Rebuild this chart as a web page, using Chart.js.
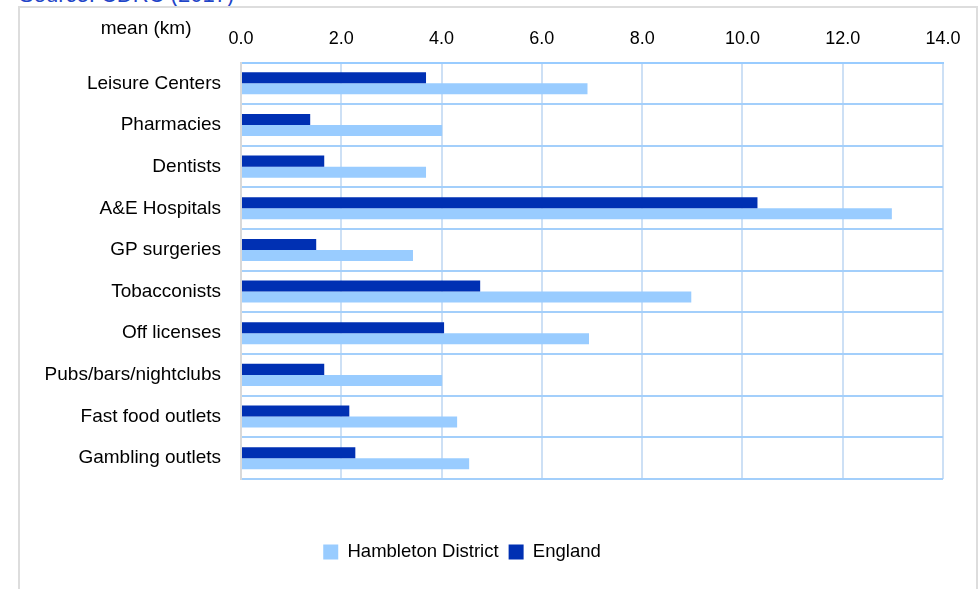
<!DOCTYPE html>
<html>
<head>
<meta charset="utf-8">
<script src="https://cdn.jsdelivr.net/npm/chart.js@4.4.0/dist/chart.umd.min.js"></script>
<style>
  html, body { margin: 0; padding: 0; background: #fff; overflow: hidden; }
  #wrap { position: relative; width: 980px; height: 589px; }
  #source { position: absolute; left: 19px; top: -16.5px; font: 22px "Liberation Sans", Arial, sans-serif;
            line-height: 22px; color: #1f45c8; white-space: nowrap; }
  #frame { position: absolute; left: 18px; top: 6px; width: 960px; height: 620px;
           border: 2px solid #dddddd; box-sizing: border-box; }
  #chart { position: absolute; left: -19px; top: 0; }
</style>
</head>
<body>
<div id="wrap">
  <div id="source">Source: CDRC (2017)</div>
  <div id="frame"></div>
  <canvas id="chart" width="999" height="589"></canvas>
</div>
<script>
// mean distance (km) to nearest facility
const categories = ['Leisure Centers', 'Pharmacies', 'Dentists', 'A&E Hospitals', 'GP surgeries',
                    'Tobacconists', 'Off licenses', 'Pubs/bars/nightclubs', 'Fast food outlets', 'Gambling outlets'];
const hambleton = [6.91, 4.01, 3.69, 12.98, 3.43, 8.98, 6.94, 4.01, 4.31, 4.55];
const england = [3.69, 1.38, 1.66, 10.30, 1.50, 4.77, 4.05, 1.66, 2.16, 2.28];
const xTicks = [0, 2, 4, 6, 8, 10, 12, 14];
const unitLabel = 'mean (km)';

Chart.defaults.font.family = '"Liberation Sans", Arial, sans-serif';
Chart.defaults.color = '#000';

// "mean (km)" sits above the category labels, left of the axis ticks
const unitLabelPlugin = {
    id: 'unitLabel',
    afterDraw(chart) {
        const ctx = chart.ctx;
        const area = chart.chartArea;
        ctx.save();
        ctx.font = '19px "Liberation Sans", Arial, sans-serif';
        ctx.fillStyle = '#000';
        ctx.textAlign = 'left';
        ctx.textBaseline = 'middle';
        ctx.fillText(unitLabel, area.left - 140.3, area.top - 34);
        ctx.restore();
    }
};

new Chart(document.getElementById('chart'), {
    type: 'bar',
    data: {
        labels: categories,
        datasets: [{
            label: 'England',
            data: england,
            backgroundColor: '#0030b3',
            borderWidth: 0,
            categoryPercentage: 0.53,
            barPercentage: 1
        },
        {
            label: 'Hambleton District',
            data: hambleton,
            backgroundColor: '#99ccff',
            borderWidth: 0,
            categoryPercentage: 0.53,
            barPercentage: 1
        }]
    },
    options: {
        indexAxis: 'y',
        responsive: false,
        animation: false,
        layout: { padding: { left: 0, right: 37, top: 0, bottom: 17.75 } },
        scales: {
            x: {
                position: 'top',
                min: 0,
                max: 14,
                afterBuildTicks: (scale) => { scale.ticks = xTicks.map(v => ({ value: v })); },
                afterFit: (scale) => { scale.height = 62.5; },
                ticks: {
                    font: { size: 18 },
                    padding: 13,
                    maxRotation: 0,
                    callback: (v) => Number(v).toFixed(1)
                },
                grid: { color: '#cde0f5', lineWidth: 2, drawTicks: false },
                border: { color: '#99ccff', width: 2 }
            },
            y: {
                afterFit: (scale) => { scale.width = 260; },
                ticks: { font: { size: 19 }, padding: 20 },
                grid: { color: '#a3cffb', lineWidth: 2, drawTicks: false, offset: true },
                border: { color: '#d9d9d9', width: 2, z: 1 }
            }
        },
        plugins: {
            tooltip: { enabled: false },
            legend: {
                position: 'bottom',
                reverse: true,
                title: { display: true, text: '', font: { size: 10 }, padding: { top: 41.75, bottom: 0 } },
                labels: {
                    font: { size: 18.5 },
                    boxWidth: 15,
                    boxHeight: 15,
                    padding: 10,
                    color: '#000'
                }
            }
        }
    },
    plugins: [unitLabelPlugin]
});
</script>
</body>
</html>
